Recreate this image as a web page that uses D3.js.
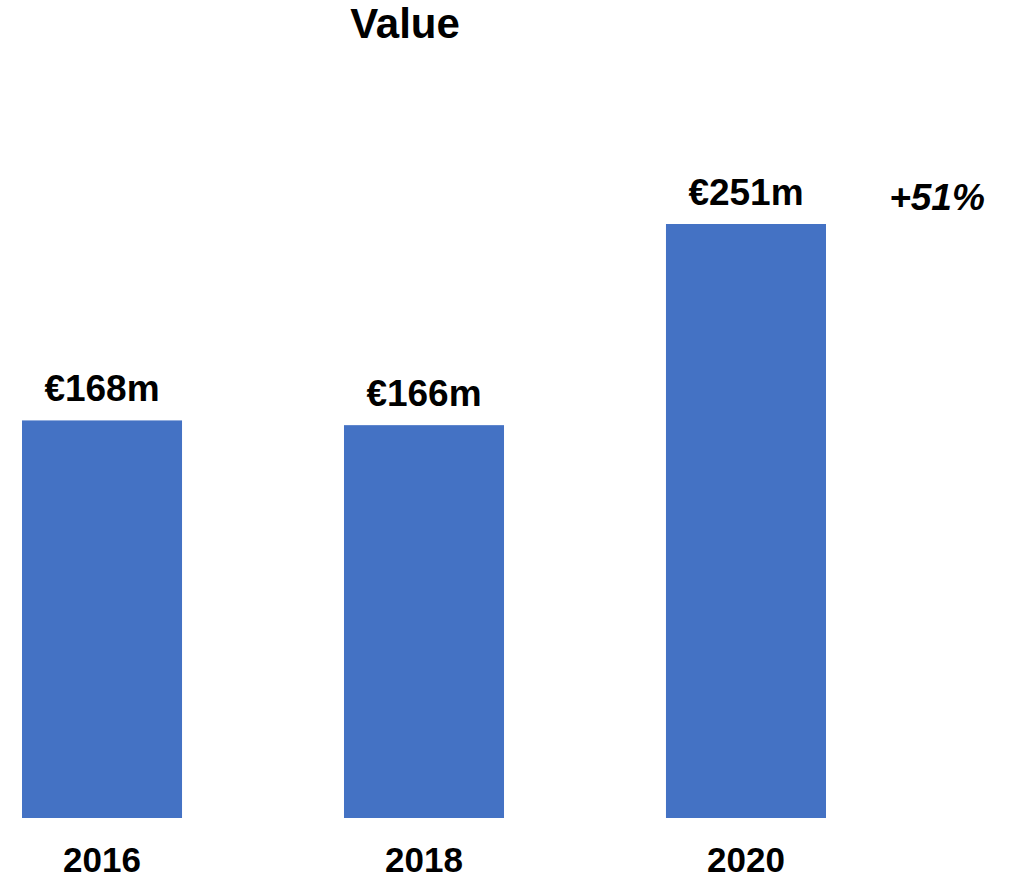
<!DOCTYPE html>
<html>
<head>
<meta charset="utf-8">
<script src="https://cdn.jsdelivr.net/npm/d3@7"></script>
<style>
  body { margin: 0; background: #fff; }
  text { font-family: "Liberation Sans", Arial, sans-serif; font-weight: bold; fill: #000; }
</style>
</head>
<body>
<div id="d3-container"></div>
<script>
const years = ["2016", "2018", "2020"];
const values = [168, 166, 251];
const valueLabels = ["€168m", "€166m", "€251m"];
const growthLabel = "+51%";
const title = "Value";

const width = 1015;
const height = 881;
const margin = { top: 224, bottom: 63, left: 22, right: 189 };

const svg = d3.select('#d3-container')
  .append('svg')
  .attr('width', width)
  .attr('height', height)
  .attr("viewBox", [0, 0, width, height]);

const x = d3.scaleBand()
  .domain(years)
  .range([margin.left, width - margin.right])
  .paddingInner(0.503)
  .paddingOuter(0)

const y = d3.scaleLinear()
  .domain([0, 251])
  .range([height - margin.bottom, margin.top])

const data = years.map((yr, i) => ({ year: yr, value: values[i], label: valueLabels[i] }))

svg
  .append("g")
  .attr("fill", '#4472c4')
  .selectAll("rect")
  .data(data)
  .join("rect")
    .attr("x", d => x(d.year))
    .attr("y", d => y(d.value))
    .attr("height", d => y(0) - y(d.value))
    .attr("width", x.bandwidth());

// value labels above bars
svg.append("g")
  .selectAll("text")
  .data(data)
  .join("text")
    .attr("x", d => x(d.year) + x.bandwidth() / 2)
    .attr("y", d => y(d.value) - 19)
    .attr("text-anchor", "middle")
    .attr("font-size", "37px")
    .text(d => d.label);

// year labels
svg.append("g")
  .selectAll("text")
  .data(data)
  .join("text")
    .attr("x", d => x(d.year) + x.bandwidth() / 2)
    .attr("y", 872)
    .attr("text-anchor", "middle")
    .attr("font-size", "35px")
    .text(d => d.year);

svg.append("text")
  .attr("x", 405)
  .attr("y", 38)
  .attr("text-anchor", "middle")
  .attr("font-size", "42px")
  .text(title);

svg.append("text")
  .attr("x", 937)
  .attr("y", y(251) - 14)
  .attr("text-anchor", "middle")
  .attr("font-size", "37px")
  .attr("font-style", "italic")
  .text(growthLabel);
</script>
</body>
</html>
